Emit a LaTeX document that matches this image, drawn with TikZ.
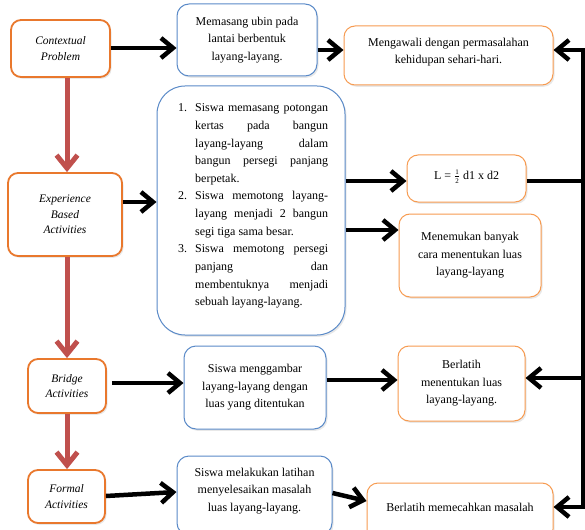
\documentclass[tikz,border=0pt]{standalone}
\usepackage{fontspec}
\setmainfont{Liberation Serif}
\usetikzlibrary{arrows.meta,shadows}
\definecolor{orgL}{RGB}{233,120,45}
\definecolor{orgR}{RGB}{247,155,80}
\definecolor{bluB}{RGB}{90,138,200}
\definecolor{redA}{RGB}{192,80,77}
\tikzset{
  basebox/.style={rectangle, fill=white, inner sep=0pt, align=center,
    font=\fontsize{12}{17.5}\selectfont,
    drop shadow={opacity=0.18, shadow xshift=1.5pt, shadow yshift=-1.8pt}},
  leftbox/.style={basebox, draw=orgL, line width=1.8pt, rounded corners=10pt,
    font=\fontsize{11.5}{15.5}\selectfont\itshape},
  orbox/.style={basebox, draw=orgR, line width=1pt, rounded corners=11pt},
  blbox/.style={basebox, draw=bluB, line width=1pt, rounded corners=12pt},
  txt/.style={inner sep=0pt, align=center, font=\fontsize{12}{17.5}\selectfont},
  redarrow/.style={draw=redA, line width=5pt, -{Straight Barb[length=13pt,width=21pt]}},
  blkarrow/.style={draw=black, line width=4.5pt, -{Straight Barb[length=12pt,width=20pt]}},
  blkline/.style={draw=black, line width=4.5pt, line join=miter}
}
\begin{document}
\begin{tikzpicture}[x=1pt,y=-1pt]
\useasboundingbox (0,0) rectangle (585,529);
\clip (0,0) rectangle (585,529);
\fill[white] (0,0) rectangle (585,529);

% left column
\node[leftbox, minimum width=99pt, minimum height=57pt] (cp) at (60.5,48.5) {Contextual\\Problem};
\node[leftbox, minimum width=114pt, minimum height=83pt] (eb) at (65,214.5) {Experience\\Based\\Activities};
\node[leftbox, minimum width=78pt, minimum height=54pt] (br) at (67,386) {Bridge\\Activities};
\node[leftbox, minimum width=77pt, minimum height=53pt] (fa) at (66.5,496.5) {Formal\\Activities};

% middle column
\node[blbox, minimum width=140pt, minimum height=72pt] (mu) at (247,40) {Memasang ubin pada\\lantai berbentuk\\layang-layang.};
\node[blbox, rounded corners=28pt, minimum width=188pt, minimum height=249pt] (big) at (251,210.5) {};
\node[anchor=base west, inner sep=0pt, font=\fontsize{12}{17.6}\selectfont] (bigt) at (178,112) {\parbox[t]{150pt}{%
\tolerance=10000\hyphenpenalty=10000\exhyphenpenalty=10000\parskip=0pt\parindent=0pt
\hangindent=17pt\hangafter=1\noindent\makebox[17pt][l]{1.}Siswa memasang potongan\linebreak kertas pada bangun\linebreak layang-layang dalam\linebreak bangun persegi panjang\linebreak berpetak.\par
\hangindent=17pt\hangafter=1\noindent\makebox[17pt][l]{2.}Siswa memotong layang-\linebreak layang menjadi 2 bangun\linebreak segi tiga sama besar.\par
\hangindent=17pt\hangafter=1\noindent\makebox[17pt][l]{3.}Siswa memotong persegi\linebreak panjang dan\linebreak membentuknya menjadi\linebreak sebuah layang-layang.\par}};
\node[blbox, minimum width=142pt, minimum height=83pt] (sm) at (255,387.5) {Siswa menggambar\\layang-layang dengan\\luas yang ditentukan};
\node[blbox, minimum width=155pt, minimum height=79pt] (sl) at (254.5,495.5) {};
\node[txt] (slt) at (254.5,491) {Siswa melakukan latihan\\menyelesaikan masalah\\luas layang-layang.};

% right column
\node[orbox, minimum width=209pt, minimum height=59pt] (mg) at (448.5,55.5) {};
\node[txt] (mgt) at (448.5,52) {Mengawali dengan permasalahan\\kehidupan sehari-hari.};
\node[orbox, minimum width=119pt, minimum height=47pt] (L) at (466.5,178.5) {};
\node[txt] (Lt) at (466.5,177) {L = $\frac{\mbox{\fontsize{7}{7}\selectfont 1}}{\mbox{\fontsize{7}{7}\selectfont 2}}$ d1 x d2};
\node[orbox, minimum width=142pt, minimum height=83pt] (mn) at (470,255.5) {Menemukan banyak\\cara menentukan luas\\layang-layang};
\node[orbox, minimum width=127pt, minimum height=75pt] (bm) at (461.5,383.5) {Berlatih\\menentukan luas\\layang-layang.};
\node[orbox, minimum width=186pt, minimum height=57pt] (bp) at (460,511.5) {};
\node[txt] (bpt) at (460,507) {Berlatih memecahkan masalah};

% red downward arrows
\draw[redarrow] (67,0 |- cp.south) -- (67,0 |- eb.north);
\draw[redarrow] (67,0 |- eb.south) -- (67,0 |- br.north);
\draw[redarrow] (67,0 |- br.south) -- (67,0 |- fa.north);

% black arrows
\draw[blkarrow] (cp.east |- 0,48) -- (mu.west |- 0,48);
\draw[blkarrow] (mu.east |- 0,50) -- (mg.west |- 0,50);
\draw[blkarrow] (eb.east |- 0,202) -- (big.west |- 0,202);
\draw[blkarrow] (big.east |- 0,181) -- (L.west |- 0,181);
\draw[blkarrow] (big.east |- 0,230) -- (mn.west |- 0,230);
\draw[blkarrow] ([xshift=5pt]br.east |- 0,383) -- (sm.west |- 0,383);
\draw[blkarrow] (sm.east |- 0,380) -- (bm.west |- 0,380);
\draw[blkarrow] (fa.east |- 0,496) -- (sl.west |- 0,492);
\draw[blkarrow] (sl.east |- 0,493) -- (bp.west |- 0,501);

% feedback line on the right
\coordinate (rt) at (583,50);
\coordinate (rb) at (583,507);
\coordinate (rm) at (583,378);
\draw[blkline] (L.east |- 0,181) -- (rt |- 0,181);
\draw[blkline, -{Straight Barb[length=12pt,width=20pt]}] (rb) -- (rt) -- (mg.east |- rt);
\draw[blkline, -{Straight Barb[length=12pt,width=20pt]}] (rt) -- (rb) -- (bp.east |- rb);
\draw[blkarrow] (rm) -- (bm.east |- rm);
\end{tikzpicture}
\end{document}
